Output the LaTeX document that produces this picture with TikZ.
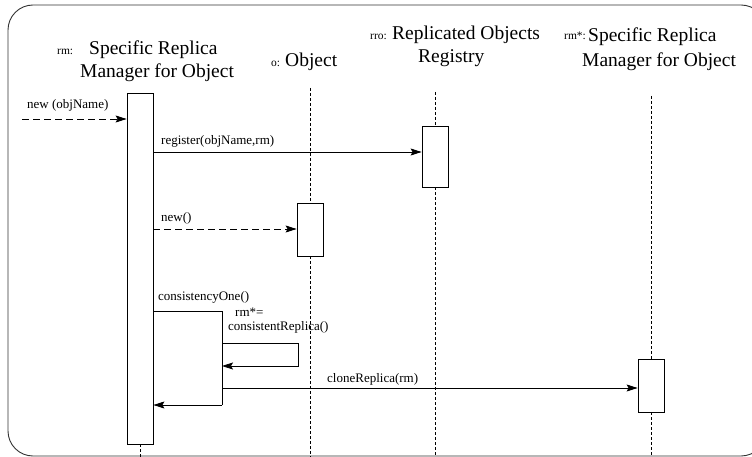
\documentclass[tikz,border=0pt]{standalone}
\usepackage{fontspec}
\setmainfont{Liberation Serif}
\usetikzlibrary{arrows.meta,calc}

\begin{document}
\begin{tikzpicture}[x=1pt,y=-1pt,
  frame/.style={draw=black!80,line width=0.9pt,rounded corners=25pt},
  act/.style={draw,fill=white,line width=0.8pt,minimum width=26pt,inner sep=0pt},
  life/.style={line width=0.8pt,dash pattern=on 3pt off 2pt},
  msg/.style={line width=0.8pt,-{Stealth[length=11pt,width=7pt,inset=2pt]}},
  async/.style={msg,dash pattern=on 7pt off 4pt},
  hdr/.style={font=\fontsize{19.5}{23}\selectfont,inner sep=0pt,anchor=base west},
  pre/.style={font=\fontsize{11.5}{13}\selectfont,inner sep=0pt,anchor=base west},
  lbl/.style={font=\fontsize{13}{15}\selectfont,inner sep=0pt,anchor=base west}]
\useasboundingbox (0,0) rectangle (752,457);

% outer frame (runs past the right edge)
\draw[frame] (8,5) rectangle (766,456);

% object headers
\node[pre] (hRmP)  at (57,55)  {rm:};
\node[hdr] (hRm1)  at (89,55)  {Specific Replica};
\node[hdr] (hRm2)  at (80,78)  {Manager for Object};
\node[pre] (hOP)   at (271,67) {o:};
\node[hdr] (hO)    at (285,67) {Object};
\node[pre] (hRroP) at (370,40) {rro:};
\node[hdr] (hRro1) at (392,40) {Replicated Objects};
\node[hdr] (hRro2) at (418,63) {Registry};
\node[pre] (hRmsP) at (564,40) {rm*:};
\node[hdr] (hRms1) at (588,42) {Specific Replica};
\node[hdr] (hRms2) at (582,67) {Manager for Object};

% activation boxes
\node[act,minimum height=351pt] (rmA)  at (140,268.5) {};
\node[act,minimum height=53pt]  (oA)   at (310,229.5) {};
\node[act,minimum height=61pt]  (rroA) at (435,156.5) {};
\node[act,minimum height=53pt]  (rmsA) at (651,385.5) {};

% lifeline ends
\coordinate (oTop)   at (310,88);
\coordinate (rroTop) at (435,92);
\coordinate (rmsTop) at (651,96);
\coordinate (bot)    at (0,457);

\draw[life] (rmA.south) -- (rmA.south |- bot);
\draw[life] (oTop) -- (oA.north);
\draw[life] (oA.south) -- (oA.south |- bot);
\draw[life] (rroTop) -- (rroA.north);
\draw[life] (rroA.south) -- (rroA.south |- bot);
\draw[life] (rmsTop) -- (rmsA.north);
\draw[life] (rmsA.south) -- (rmsA.south |- bot);

% message rows
\coordinate (yNew)   at (22,119);
\coordinate (yReg)   at (0,152);
\coordinate (yObj)   at (0,229);
\coordinate (yCons)  at (0,311);
\coordinate (cRet)   at (222,405);
\coordinate (cLoopA) at (222,343);
\coordinate (cLoopB) at (298,366);
\coordinate (cLoopC) at (222,366);
\coordinate (cClone) at (222,388);

% messages
\draw[async] (yNew) -- (rmA.west |- yNew);
\node[lbl] (lNew) at (27,109) {new (objName)};

\draw[msg] (rmA.east |- yReg) -- (rroA.west |- yReg);
\node[lbl] (lReg) at (161,145) {register(objName,rm)};

\draw[async] (rmA.east |- yObj) -- (oA.west |- yObj);
\node[lbl] (lObj) at (161,222) {new()};

\draw[line width=0.8pt] (rmA.east |- yCons) -| (cRet);
\draw[msg] (cRet) -- (rmA.east |- cRet);
\node[lbl] (lCons) at (158,300) {consistencyOne()};

\draw[msg] (cLoopA) -| (cLoopB) -- (cLoopC);
\node[lbl] (lRm) at (235,316) {rm*=};
\node[lbl] (lRep) at (228,330) {consistentReplica()};

\draw[msg] (cClone) -- (rmsA.west |- cClone);
\node[lbl] (lClone) at (327,382) {cloneReplica(rm)};
\end{tikzpicture}
\end{document}
